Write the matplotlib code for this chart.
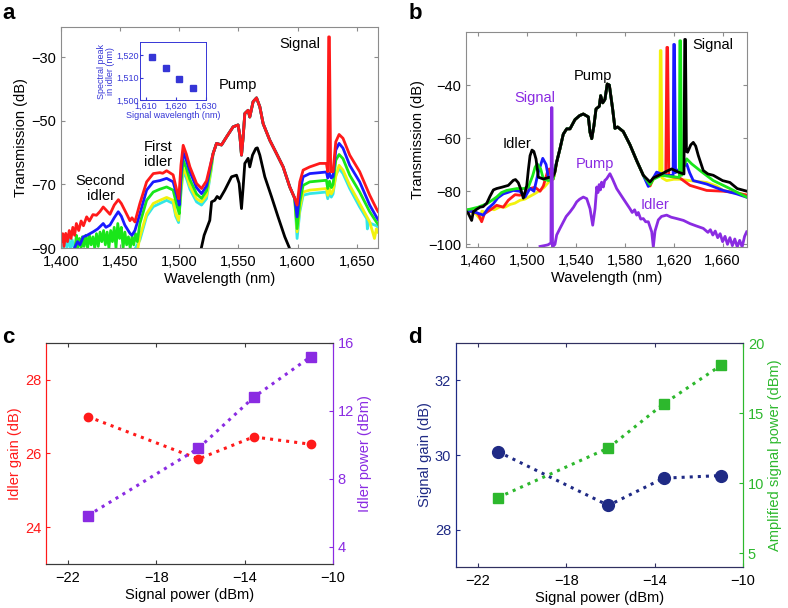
"""Four-panel figure: FWM spectra (a, b) and idler / signal gain vs signal power (c, d)."""

import numpy as np
import matplotlib.pyplot as plt
from matplotlib.ticker import StrMethodFormatter

plt.rcParams.update({
    'font.family': ['Liberation Sans', 'DejaVu Sans'],
    'font.size': 10.5,
})

# ---------------------------------------------------------------- panel a data
# shared pump hump (all five traces sit on top of each other here)
a_pump = [(1528.6, -60.3), (1531.5, -57.1), (1535.7, -57.6), (1539.9, -55.1),
          (1545.5, -51.9), (1549.7, -51.3), (1551.2, -54.6), (1552.6, -60.8),
          (1554.0, -55.1), (1555.4, -47.7), (1558.2, -46.7), (1559.6, -48.8),
          (1562.4, -44.0), (1565.3, -42.8), (1568.1, -45.6), (1570.9, -50.9),
          (1576.5, -56.1), (1582.2, -60.3), (1587.8, -64.5), (1593.4, -70.8),
          (1597.6, -74.4)]

a_red = [(1400, -88), (1401.5, -85.5), (1402.5, -89.5), (1404, -85.4), (1405.5, -88),
         (1407, -84.5), (1408.5, -87), (1410, -83.5), (1411.5, -86), (1413, -82.3),
         (1415, -84.5), (1417, -81.5), (1419, -83), (1421.7, -80.2), (1424, -81.5),
         (1427, -79.5), (1430, -79.7), (1433, -78.5), (1435.7, -77.1), (1438, -78),
         (1441.4, -79.4), (1445, -76.5), (1448.5, -74.8), (1451, -76), (1454, -78.2),
         (1458.3, -81.4), (1460, -80.5), (1462.5, -81.8), (1466.7, -76), (1472.4, -69.2),
         (1478, -66.6), (1483.6, -66.3), (1486, -66.5), (1489.3, -65.7), (1494.8, -67),
         (1498.2, -72.4), (1499.6, -74.5), (1501.4, -64), (1503.3, -57.7), (1506, -60.5),
         (1509, -64.5), (1514.6, -69.7), (1518.8, -71.3), (1523, -68.9)] + a_pump + [
         (1599.6, -76.5), (1601.9, -69.2), (1604.7, -65.5), (1610.3, -64.5),
         (1618.8, -63.4), (1624.4, -63.4), (1625.5, -66), (1626.3, -23.6),
         (1626.9, -23.6), (1628, -66), (1630, -66), (1632.3, -56.6), (1635.1, -54.3),
         (1638.4, -55.5), (1644.1, -60.8), (1652.5, -66), (1661, -73.4),
         (1666.6, -77.6), (1668, -78.5)]

a_blue = [(1411.8, -89.7), (1414, -88), (1416, -89), (1418.8, -86.5), (1422, -86),
          (1427.3, -84.9), (1431, -84), (1435.7, -82.3), (1438, -83.5), (1441.4, -82.8),
          (1445, -80.5), (1448.4, -78.6), (1451, -80), (1454, -82.8), (1458.3, -85.4),
          (1460, -86), (1462.5, -84.5), (1466.7, -79.2), (1472.4, -71.8), (1478, -69.2),
          (1483.6, -68.8), (1489.3, -68.1), (1494.8, -69.2), (1498.2, -73.9),
          (1500, -76.5), (1501.6, -66), (1503.3, -59.9), (1506, -62.5), (1509, -66),
          (1514.6, -71), (1518.8, -72.9), (1523, -70.5), (1527, -63)] + a_pump + [
          (1599.6, -80.2), (1601.9, -72.4), (1604.7, -67.6), (1610.3, -66.6),
          (1624.4, -66.1), (1625.5, -68), (1627, -66.5), (1628.5, -68), (1630, -67.5),
          (1632.3, -59.2), (1635.1, -57.1), (1638.4, -58.6), (1644.1, -64),
          (1652.5, -69.2), (1661, -76.5), (1666.6, -80.2), (1668, -81)]

a_green = [(1412, -90), (1413, -86), (1414, -90), (1415.5, -87), (1417, -90), (1418, -86.5),
           (1419.5, -89.5), (1421, -86), (1422.5, -90), (1424, -86), (1425.5, -89),
           (1427, -86.5), (1428.5, -90), (1430, -85.5), (1431.5, -89.5), (1433, -85),
           (1434.5, -88), (1436, -84.5), (1437.5, -89), (1439, -85), (1440.5, -90),
           (1442, -84.5), (1443.5, -88), (1445, -83.5), (1446.5, -90), (1448, -82.3),
           (1449.5, -87), (1451, -83.5), (1452.5, -90), (1454, -85), (1455.5, -89),
           (1457, -86.5), (1458.5, -90), (1460, -86.5), (1461.5, -89), (1463, -85.5),
           (1464.5, -88), (1466.7, -82.3), (1472.4, -75), (1478, -72.4), (1483.6, -71.5),
           (1489.3, -70.8), (1494.8, -71.8), (1498.2, -77), (1500, -79.2), (1501.6, -69),
           (1503.3, -62.4), (1506, -65), (1509, -68.5), (1514.6, -73), (1518.8, -74.4),
           (1523, -72), (1527, -64)] + a_pump + [
           (1599.6, -83.9), (1601.9, -75.5), (1604.7, -70.3), (1610.3, -69.2),
           (1624.4, -68.7), (1625.5, -71.3), (1627, -69), (1628.5, -71), (1630, -70),
           (1632.3, -62.4), (1635.1, -60.6), (1638.4, -61.9), (1644.1, -67.1),
           (1652.5, -72.4), (1661, -78.6), (1666.6, -81.8), (1668, -82.5)]

a_yellow = [(1465, -90), (1466.7, -86.5), (1472.4, -79.2), (1478, -76), (1483.6, -75),
            (1489.3, -74.1), (1494.8, -75), (1497, -79.2), (1499.4, -81.3), (1501.6, -71),
            (1503.3, -65), (1506, -67), (1509, -70.5), (1514.6, -74.5), (1518.8, -75.5),
            (1523, -73.5), (1527, -65)] + a_pump + [
            (1599.6, -84.9), (1601.9, -77.6), (1604.7, -72.4), (1610.3, -71.8),
            (1624.4, -71.3), (1625.5, -73.4), (1627, -71.5), (1628.5, -73), (1630, -72),
            (1632.3, -67.5), (1635.1, -64), (1638.4, -65.5), (1644.1, -70.3),
            (1652.5, -76), (1661, -81.8), (1665, -87), (1666.6, -84), (1668, -85)]

a_cyan = [(1402, -90), (1403.5, -86.5), (1405, -90), (1406.5, -87), (1408, -90),
          (1409.5, -87.5), (1411, -90), (np.nan, np.nan),
          (1463, -90), (1466.7, -87.5), (1472.4, -80), (1478, -77), (1483.6, -76),
          (1489.3, -75), (1494.8, -76), (1497, -80), (1499.4, -82), (1501.6, -72),
          (1503.3, -66), (1506, -68), (1509, -71.5), (1514.6, -75.5), (1518.8, -76.5),
          (1523, -74.5), (1527, -65.5)] + a_pump + [
          (1599.6, -87), (1601.9, -78.6), (1604.7, -73.4), (1610.3, -72.9),
          (1624.4, -72.4), (1625.5, -74.5), (1627, -72.5), (1628.5, -74), (1630, -73),
          (1632.3, -67.1), (1635.1, -65), (1638.4, -66.6), (1644.1, -71.3),
          (1652.5, -77.1), (1658.5, -80.8), (1659, -84), (1660, -82), (1666.6, -83),
          (1668, -83.5)]

a_black = [(1518.8, -89.7), (1521, -86), (1525.8, -81.3), (1527.3, -75.5), (1530, -75),
           (1532, -73.8), (1534.3, -74.5), (1538.5, -71.8), (1544.2, -67.6),
           (1548.4, -67.1), (1550.6, -69.7), (1552.6, -77.6), (1554, -70.8),
           (1555.4, -63.4), (1558.2, -61.8), (1559.6, -64.5), (1561.9, -60.8),
           (1564.7, -58.7), (1566, -58.5), (1568.1, -60.8), (1572.3, -67.6), (1578, -73.9),
           (1583.5, -80.2), (1589.2, -86.5), (1592.8, -89.7), (1594, -91)]

# inset of panel a
inset_signal_wl = [1612.1, 1616.7, 1621.1, 1625.6]
inset_idler_peak = [1519.5, 1514.5, 1509.3, 1505.2]

# ---------------------------------------------------------------- panel b data
b_pump = [(1524.2, -69), (1526.9, -64), (1529.6, -58.5), (1532.4, -56.5), (1535.1, -56.5),
          (1539.2, -53), (1543, -51.5), (1546, -50.9), (1550.1, -52), (1551.5, -57.8),
          (1552.9, -60.2), (1554.7, -55.3), (1556.4, -49), (1559.1, -48), (1560.2, -44),
          (1561.9, -46.7), (1563.7, -45.4), (1565.6, -39.6), (1567.3, -40), (1570, -49),
          (1571.9, -56.3), (1574.1, -55.8), (1578.7, -57.5), (1584.2, -62.5),
          (1589.7, -68.5), (1595.1, -74)]

b_yellow = [(1450, -88), (1453.3, -87.7), (1458, -88.5), (1461.5, -90.5), (1463, -87.5),
            (1466, -88), (1469.6, -86.5), (1473, -87), (1477.8, -85.9), (1482, -86),
            (1486, -85), (1490, -84.5), (1494.2, -83.4), (1498, -83), (1502, -82),
            (1506, -81), (1510.6, -79.7), (1514, -78.5), (1518.7, -76), (1522, -74.5)] + b_pump + [
            (1600.6, -78), (1603.3, -75.5), (1606, -73.5), (1608.5, -73.5), (1609.0, -27),
            (1609.6, -27), (1610.5, -75), (1614.2, -76), (1620, -75.5), (1625, -75.5),
            (1633, -76), (1647, -76.7), (1655, -78), (1660.6, -79.7), (1670, -80.5),
            (1680, -81.5)]

b_red = [(1450, -88), (1456, -87.5), (1460, -88.5), (1462.8, -91.5), (1465, -88.5),
         (1470, -87), (1475.1, -85.3), (1480.5, -86), (1484.6, -83.4), (1490.1, -81.3),
         (1494, -81.5), (1498.3, -81), (1502.4, -79), (1506.5, -78.5), (1510.6, -80),
         (1513.3, -78), (1516.6, -72.8), (1518.2, -71.6), (1519.6, -74.3),
         (1521.4, -75.4)] + b_pump + [
         (1600.6, -78), (1603.3, -75), (1608, -73.5), (1613.5, -74), (1614.4, -25.8),
         (1615, -25.8), (1616, -74), (1618.3, -74.5), (1625, -75), (1633.3, -77.8),
         (1647, -79.7), (1660.6, -80), (1670, -80.5), (1680, -81.5)]

b_blue = [(1450, -87.5), (1453, -87.5), (1458, -88), (1464.2, -89), (1468, -86.5),
          (1472.4, -84.7), (1476, -82.5), (1480.5, -81), (1484, -80.5), (1488.7, -79.7),
          (1494, -80), (1498.3, -82.2), (1502.4, -78.9), (1505.6, -80), (1509.2, -72.8),
          (1512.8, -67.6), (1515.5, -69.9), (1517.4, -74.7), (1520.1, -75.4)] + b_pump + [
          (1599.2, -78.2), (1602, -76), (1606, -72.8), (1610, -73.5), (1614.2, -74.1),
          (1619.5, -74), (1620, -24.7), (1620.6, -24.7), (1621.5, -73), (1622.9, -72.2),
          (1627, -71), (1630.6, -69.7), (1633, -73), (1636, -76), (1647, -77.3),
          (1660.6, -79.7), (1671.5, -81), (1680, -82.3)]

b_green = [(1450, -87), (1453, -86.8), (1460, -86), (1467, -84.7), (1471, -83.5),
           (1475, -82.2), (1479, -80.5), (1483.3, -79.7), (1491.5, -79), (1497, -79),
           (1501, -78.5), (1504.6, -74.1), (1506.5, -71), (1508.3, -69.7), (1511.1, -71.6),
           (1513.3, -75.4), (1517.4, -76), (1521.4, -75.4)] + b_pump + [
           (1600.6, -77.5), (1603.3, -75.5), (1610, -74), (1618, -74.5), (1624.6, -74.8),
           (1625.0, -23.3), (1625.6, -23.3), (1626.5, -74), (1628, -71), (1630.6, -67.8),
           (1634.7, -69.7), (1641.5, -72.2), (1652.4, -76), (1666, -79), (1680, -82.3)]

b_black = [(1450, -87.5), (1452, -88.5), (1454.6, -91), (1456, -87.7), (1458.7, -86.8),
           (1461.5, -86), (1464, -85.8), (1467, -84.5), (1469.5, -82), (1472.4, -79.5),
           (1475, -79), (1479.2, -78.5), (1484.6, -77.8), (1488.7, -75.9), (1490.5, -75.6),
           (1492.8, -76.8), (1495, -79.5), (1496.9, -82.6), (1498.5, -80), (1499.7, -77.9),
           (1501, -72), (1502.4, -66.6), (1504, -64.5), (1505.5, -65), (1507.3, -67.9),
           (1509.2, -74.7), (1513.3, -75.4), (1518.7, -74.7), (1521, -74.5),
           (1522.8, -72.8)] + b_pump + [
           (1600.6, -76.5), (1603.3, -75), (1610.1, -73.5), (1614, -72.5), (1618.3, -71.6),
           (1623.7, -72.8), (1628.4, -73.5), (1629.0, -22.8), (1629.6, -22.8),
           (1630.4, -65), (1631.4, -65.3), (1634, -62.5), (1636, -61.6), (1638, -63),
           (1640.1, -66.5), (1644.2, -72.2), (1648, -73.5), (1652.4, -74), (1660, -76),
           (1666, -76.7), (1672, -79), (1680, -80)]

b_purple = [(1510.6, -100.8), (1514, -100.5), (1517, -100.2), (1519.5, -99.5),
            (1519.9, -48.5), (1520.4, -48.5), (1520.8, -101), (1522.8, -100),
            (1524.2, -96.5), (1526.9, -94), (1529.6, -91.6), (1532, -89.5), (1535.1, -87.8),
            (1538, -86), (1540.6, -84), (1543, -83), (1546, -82.2), (1548.8, -82.8),
            (1551.5, -86.6), (1553.7, -92.8), (1555.6, -86.6), (1557, -78.4), (1558, -80.5),
            (1559, -77.5), (1560, -79.5), (1561, -76.6), (1562.4, -78.4), (1563.5, -76),
            (1565.1, -75.3), (1567.8, -73.4), (1570, -75.5), (1573.3, -79), (1578.7, -82.8),
            (1584.2, -86.6), (1586, -88), (1588, -87), (1589.7, -89), (1591, -88),
            (1593, -90.5), (1595.1, -90.3), (1597, -91.5), (1599.2, -91.5), (1602, -95.3),
            (1603.3, -101), (1604.7, -95), (1607.4, -90.8), (1610, -89.5), (1614.2, -89),
            (1618, -89.8), (1622.4, -90.3), (1628, -91), (1633.3, -92.2), (1638, -93),
            (1644.2, -94), (1648, -95.5), (1650, -94.5), (1652, -96.5), (1654, -95),
            (1656, -97.5), (1658, -96), (1660, -99), (1662, -97), (1664, -100),
            (1666, -97.5), (1668, -100.5), (1670, -98), (1672, -101), (1674, -98.5),
            (1676, -101), (1678, -97), (1679.7, -95.3)]

# ---------------------------------------------------------------- panels c, d data
signal_power = [-21.1, -16.1, -13.6, -11.0]
idler_gain = [27.0, 25.85, 26.45, 26.25]
idler_power = [5.85, 9.8, 12.8, 15.2]
signal_gain = [30.09, 28.65, 29.38, 29.45]
amp_signal_power = [8.96, 12.5, 15.65, 18.4]

RED = '#ff1a1a'
BLUE = '#1a1aff'
GREEN = '#19e619'
YELLOW = '#f2f20d'
CYAN = '#33e6e6'
PURPLE = '#8a2be2'
NAVY = '#1f2a85'
DGREEN = '#2db82d'
INSET = '#3535d6'


def trace(ax, pts, color, lw=2.0):
    pts = np.array(pts, dtype=float)
    ax.plot(pts[:, 0], pts[:, 1], color=color, lw=lw, solid_joinstyle='round')


def box_style(ax):
    for s in ax.spines.values():
        s.set_color('#8c8c8c')
        s.set_linewidth(0.8)
    ax.tick_params(direction='in', top=True, right=True, length=3,
                   color='#8c8c8c', labelsize=10.5)
    ax.tick_params(axis='x', pad=5)


fig = plt.figure(figsize=(7.88, 6.08), dpi=100)

# ------------------------------------------------------------------- panel a
ax_a = fig.add_axes([0.0774, 0.5921, 0.4023, 0.3635])
for pts, c in [(a_cyan, CYAN), (a_yellow, YELLOW), (a_green, GREEN),
               (a_blue, BLUE), (a_red, RED), (a_black, 'black')]:
    trace(ax_a, pts, c)
ax_a.set_xlim(1400, 1668)
ax_a.set_ylim(-90, -20.5)
ax_a.set_xticks([1400, 1450, 1500, 1550, 1600, 1650])
ax_a.set_yticks([-90, -70, -50, -30])
ax_a.xaxis.set_major_formatter(StrMethodFormatter('{x:,.0f}'))
box_style(ax_a)
ax_a.set_xlabel('Wavelength (nm)', labelpad=2)
ax_a.set_ylabel('Transmission (dB)', labelpad=2)
ax_a.text(1619, -25.7, 'Signal', ha='right', va='center')
ax_a.text(1549.7, -38.8, 'Pump', ha='center', va='center')
ax_a.text(1482.2, -60.5, 'First\nidler', ha='center', va='center', linespacing=1.1)
ax_a.text(1433.5, -71.2, 'Second\nidler', ha='center', va='center', linespacing=1.1)

ax_in = fig.add_axes([0.1777, 0.8355, 0.0838, 0.0954])
ax_in.plot(inset_signal_wl, inset_idler_peak, 's', color=INSET, ms=4.2, mec=INSET)
ax_in.set_xlim(1608, 1630)
ax_in.set_ylim(1500, 1526)
ax_in.set_xticks([1610, 1620, 1630])
ax_in.set_yticks([1500, 1510, 1520])
ax_in.xaxis.set_major_formatter(StrMethodFormatter('{x:,.0f}'))
ax_in.yaxis.set_major_formatter(StrMethodFormatter('{x:,.0f}'))
for s in ax_in.spines.values():
    s.set_color(INSET)
    s.set_linewidth(0.7)
ax_in.tick_params(direction='in', length=2, color=INSET, labelcolor=INSET,
                  labelsize=6.5, pad=1)
ax_in.set_xlabel('Signal wavelength (nm)', fontsize=6.5, color=INSET, labelpad=0.5)
ax_in.set_ylabel('Spectral peak\nin idler (nm)', fontsize=6.5, color=INSET,
                 labelpad=1, linespacing=1.0)

# ------------------------------------------------------------------- panel b
ax_b = fig.add_axes([0.5914, 0.5938, 0.3566, 0.3536])
for pts, c in [(b_yellow, YELLOW), (b_red, RED), (b_blue, BLUE), (b_green, GREEN),
               (b_black, 'black'), (b_purple, PURPLE)]:
    trace(ax_b, pts, c)
ax_b.set_xlim(1450, 1680)
ax_b.set_ylim(-101, -20)
ax_b.set_xticks([1460, 1500, 1540, 1580, 1620, 1660])
ax_b.set_yticks([-100, -80, -60, -40])
ax_b.xaxis.set_major_formatter(StrMethodFormatter('{x:,.0f}'))
box_style(ax_b)
ax_b.set_xlabel('Wavelength (nm)', labelpad=2)
ax_b.set_ylabel('Transmission (dB)', labelpad=2)
ax_b.text(1652.4, -24.8, 'Signal', ha='center', va='center')
ax_b.text(1554.2, -36.6, 'Pump', ha='center', va='center')
ax_b.text(1491.5, -62.2, 'Idler', ha='center', va='center')
ax_b.text(1506.5, -44.7, 'Signal', ha='center', va='center', color=PURPLE)
ax_b.text(1555.6, -69.7, 'Pump', ha='center', va='center', color=PURPLE)
ax_b.text(1604.7, -85.3, 'Idler', ha='center', va='center', color=PURPLE)


# ------------------------------------------------------------------- panels c, d
def twin_panel(rect, y1, y2, c1, c2, m1, m2, ms1, ms2, lim1, lim2, t1, t2,
               lab1, lab2, frame):
    ax = fig.add_axes(rect)
    ax2 = ax.twinx()
    ax.plot(signal_power, y1, ':', color=c1, lw=2.2, marker=m1, ms=ms1, zorder=3)
    ax2.plot(signal_power, y2, ':', color=c2, lw=2.2, marker=m2, ms=ms2, zorder=3)
    ax.set_xlim(-23, -10)
    ax.set_xticks([-22, -18, -14, -10])
    ax.set_ylim(*lim1)
    ax.set_yticks(t1)
    ax2.set_ylim(*lim2)
    ax2.set_yticks(t2)
    for a in (ax, ax2):
        a.spines['top'].set_color(frame)
        a.spines['bottom'].set_color(frame)
        a.spines['left'].set_color(c1)
        a.spines['right'].set_color(c2)
    ax.tick_params(axis='x', direction='in', top=True, length=3, color=frame,
                   labelsize=10.5, pad=5)
    ax.tick_params(axis='y', direction='in', length=3, color=c1, labelcolor=c1,
                   labelsize=10.5)
    ax2.tick_params(axis='y', direction='in', length=3, color=c2, labelcolor=c2,
                    labelsize=10.5)
    ax.set_xlabel('Signal power (dBm)', labelpad=2)
    ax.set_ylabel(lab1, color=c1, labelpad=2)
    ax2.set_ylabel(lab2, color=c2, labelpad=3)
    return ax, ax2


twin_panel([0.0584, 0.0724, 0.3642, 0.3635], idler_gain, idler_power, RED, PURPLE,
           'o', 's', 6, 7.5, (23, 29), (3, 16), [24, 26, 28], [4, 8, 12, 16],
           'Idler gain (dB)', 'Idler power (dBm)', '#3a3a3a')
twin_panel([0.5787, 0.0674, 0.3642, 0.3684], signal_gain, amp_signal_power, NAVY,
           DGREEN, 'o', 's', 8.5, 7, (27, 33), (4, 20), [28, 30, 32], [5, 10, 15, 20],
           'Signal gain (dB)', 'Amplified signal power (dBm)', '#303060')

for x, y, s in [(0.003, 0.995, 'a'), (0.518, 0.995, 'b'),
                (0.003, 0.462, 'c'), (0.518, 0.462, 'd')]:
    fig.text(x, y, s, fontsize=16, fontweight='bold', ha='left', va='top')

fig.savefig('out.png', dpi=100)
